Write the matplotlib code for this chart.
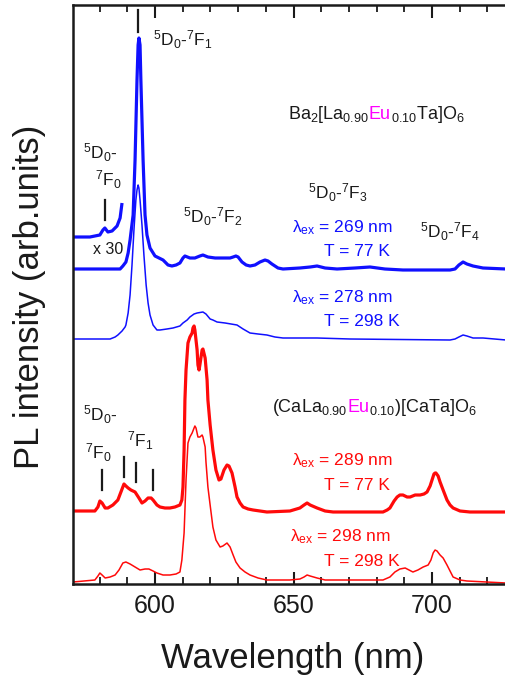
import matplotlib
matplotlib.use("Agg")
import matplotlib.pyplot as plt
import matplotlib.transforms as mtransforms
import numpy as np

plt.rcParams['font.family'] = ['Liberation Sans', 'DejaVu Sans']
plt.rcParams['mathtext.fontset'] = 'custom'
plt.rcParams['mathtext.rm'] = 'Liberation Sans'
plt.rcParams['mathtext.it'] = 'Liberation Sans:italic'
plt.rcParams['mathtext.bf'] = 'Liberation Sans:bold'
plt.rcParams['mathtext.default'] = 'regular'

# ---------------- data (wavelength nm, intensity arb. units incl. vertical offsets) ----------------
ba77_x30_wl = [570.4, 576.5, 580.1, 581.2, 581.9, 583.0, 584.5, 586.3, 587.4, 588.1]
ba77_x30_int = [347, 347, 349, 354, 356, 352, 353, 358, 366, 381]

ba77_wl = [570.4, 587.4, 588.4, 589.5, 590.3, 591.0, 592.1, 592.8, 593.5, 593.9, 594.2,
           594.6, 594.9, 595.7, 596.4, 597.1, 598.2, 600.0, 602.9, 604.7, 606.1, 607.6,
           609.0, 610.1, 610.8, 612.6, 614.4, 616.2, 617.3, 619.1, 621.7, 625.3, 627.1,
           628.2, 629.2, 630.0, 631.4, 632.9, 634.3, 636.1, 637.9, 639.7, 640.8, 642.2,
           644.4, 646.2, 652.3, 656.0, 658.5, 661.4, 665.7, 672.2, 677.6, 683.0, 689.5,
           706.5, 708.3, 709.7, 711.2, 712.6, 714.8, 718.4, 726.7]
ba77_int = [315, 315, 318, 322, 331, 344, 369, 424, 504, 539, 546,
            539, 504, 424, 369, 349, 336, 328, 324, 319, 318, 319,
            321, 326, 328, 326, 326, 328, 329, 327, 326, 326, 326,
            327, 328, 327, 322, 319, 318, 319, 322, 324, 323, 320,
            316, 315, 316, 317, 318, 316, 315, 316, 317, 315, 314,
            314, 315, 319, 322, 320, 318, 316, 315]

ba298_wl = [570.4, 583.8, 585.6, 586.6, 588.1, 589.2, 589.5, 590.3, 591.0, 591.7, 592.4,
            593.1, 593.5, 593.9, 594.2, 594.6, 595.3, 596.0, 596.8, 597.5, 598.2, 599.3,
            600.7, 601.8, 604.3, 606.5, 609.0, 610.1, 611.6, 612.6, 614.1, 615.2, 617.3,
            618.4, 619.9, 620.9, 622.4, 625.3, 629.6, 631.8, 634.3, 637.2, 640.4, 643.3,
            646.2, 658.5, 670.4, 706.5, 708.3, 709.7, 711.2, 712.6, 714.8, 718.4, 726.7]
ba298_int = [245, 245, 247, 249, 253, 257, 259, 271, 289, 319, 354,
             384, 394, 399, 396, 384, 359, 329, 299, 281, 269, 259,
             254, 254, 255, 256, 258, 261, 264, 267, 270, 271, 272,
             270, 265, 264, 262, 261, 259, 255, 251, 250, 249, 247,
             246, 246, 245, 244, 245, 247, 249, 248, 246, 246, 244]

ca77_wl = [570.4, 578.3, 579.4, 580.1, 580.9, 582.0, 583.0, 584.8, 586.6, 587.7, 588.8,
           589.5, 590.3, 591.3, 592.8, 594.2, 595.3, 596.4, 597.5, 598.6, 599.3, 600.7,
           601.8, 603.6, 605.4, 607.2, 609.0, 609.7, 610.1, 610.5, 610.8, 611.2, 611.9,
           612.6, 613.4, 613.7, 614.1, 614.4, 615.2, 615.5, 615.9, 616.2, 617.0, 617.3,
           618.1, 618.8, 619.1, 619.9, 620.9, 622.0, 623.1, 623.8, 624.9, 626.0, 626.7,
           627.8, 628.9, 629.6, 630.7, 631.8, 633.6, 635.4, 640.4, 648.7, 652.3, 653.8,
           654.9, 656.0, 658.5, 661.4, 664.3, 682.3, 683.8, 684.8, 686.3, 687.4, 688.4,
           689.5, 691.0, 692.1, 693.9, 695.7, 697.1, 698.2, 699.3, 700.0, 700.7, 701.1,
           701.4, 702.2, 702.9, 704.0, 705.4, 706.5, 707.6, 710.1, 713.7, 726.7]
ca77_int = [73, 73, 77, 83, 81, 76, 76, 79, 84, 92, 100,
            98, 96, 94, 92, 86, 81, 83, 86, 86, 84, 79,
            77, 76, 76, 77, 79, 84, 97, 134, 184, 214, 241,
            247, 251, 256, 258, 254, 234, 219, 214, 219, 234, 235,
            226, 204, 184, 159, 134, 114, 104, 105, 114, 119, 118,
            111, 97, 87, 81, 77, 75, 74, 72, 73, 76, 79,
            81, 79, 76, 73, 72, 72, 74, 76, 83, 87, 89,
            89, 87, 87, 89, 89, 90, 92, 98, 104, 110, 111,
            111, 108, 102, 94, 84, 79, 76, 73, 72, 72]

ca298_wl = [570.4, 578.3, 579.4, 580.1, 580.9, 582.0, 583.8, 585.6, 587.0, 588.4, 589.5,
            591.0, 592.8, 594.6, 596.4, 597.8, 599.3, 600.7, 602.9, 605.4, 607.6, 609.0,
            609.7, 610.5, 611.2, 611.9, 612.6, 613.4, 614.1, 614.4, 614.8, 615.5, 616.2,
            617.0, 617.3, 618.1, 618.4, 619.1, 619.9, 620.9, 622.0, 623.5, 624.5, 626.0,
            627.1, 628.2, 629.2, 630.7, 632.5, 634.3, 637.2, 640.4, 648.7, 652.3, 653.8,
            654.9, 656.0, 658.5, 661.4, 682.3, 684.8, 686.6, 688.4, 690.3, 691.7, 693.1,
            694.9, 696.8, 698.6, 699.6, 700.4, 701.1, 701.8, 702.9, 704.0, 705.4, 706.5,
            707.6, 710.1, 712.6, 726.7]
ca298_int = [2, 4, 8, 11, 9, 6, 7, 9, 14, 21, 22,
             20, 17, 14, 15, 15, 13, 11, 9, 9, 10, 12,
             24, 51, 104, 141, 147, 151, 156, 158, 156, 147, 147,
             149, 147, 137, 122, 97, 79, 57, 44, 37, 38, 41,
             37, 29, 22, 16, 12, 9, 6, 4, 4, 5, 7,
             9, 8, 6, 4, 4, 7, 12, 15, 16, 14, 12,
             14, 17, 19, 24, 31, 34, 33, 29, 26, 19, 13,
             7, 4, 3, 1]

# transition marker positions (wavelength, y from, y to)
ba_marks = [(593.9, 552, 574), (581.9, 364, 384)]
ca_marks = [(580.9, 94, 114), (588.8, 107, 127), (593.1, 102, 121), (599.3, 94, 114)]

x_ticks = [600, 650, 700]
x_limits = (570.4, 726.7)
y_limits = (0, 579)

BLUE = '#1010ff'
RED = '#ff0a0a'
MAG = '#ff00ff'
TXT = '#1a1a1a'

fig = plt.figure(figsize=(5.06, 6.81), dpi=100)
ax = fig.add_axes([73 / 506, 1 - 584 / 681, 433 / 506, 579 / 681])

ax.plot(ba77_x30_wl, ba77_x30_int, color=BLUE, lw=2.3, solid_capstyle='butt', solid_joinstyle='round')
ax.plot(ba77_wl, ba77_int, color=BLUE, lw=2.3, solid_joinstyle='round')
ax.plot(ba298_wl, ba298_int, color=BLUE, lw=1.1, solid_joinstyle='round')
ax.plot(ca77_wl, ca77_int, color=RED, lw=2.3, solid_joinstyle='round')
ax.plot(ca298_wl, ca298_int, color=RED, lw=1.1, solid_joinstyle='round')

for wl, y0, y1 in ba_marks + ca_marks:
    ax.plot([wl, wl], [y0, y1], color=TXT, lw=1.6)

ax.set_xlim(*x_limits)
ax.set_ylim(*y_limits)
ax.set_xticks(x_ticks)
ax.set_xticks(np.arange(580, 730, 10), minor=True)
ax.set_yticks([])
ax.tick_params(axis='x', which='major', direction='in', length=9, width=1.5,
               top=True, labelsize=18, pad=7, colors=TXT)
ax.tick_params(axis='x', which='minor', direction='in', length=5, width=1.3, top=True, colors=TXT)
for s in ['left', 'bottom', 'top']:
    ax.spines[s].set_linewidth(1.8)
    ax.spines[s].set_color(TXT)
ax.spines['right'].set_visible(False)

fig.text(293 / 506, 1 - 668 / 681, 'Wavelength (nm)', fontsize=25, ha='center',
         va='baseline', color=TXT)
fig.text(30 / 506, 1 - 297 / 681, 'PL intensity (arb.units)', fontsize=25, rotation=90,
         ha='center', va='center', color=TXT)

FS = 12.5
def t(x, y, s, color=TXT, ha='left', va='center', fs=FS):
    ax.text(x, y, s, color=color, ha=ha, va=va, fontsize=fs)

t(599.3, 544, r'$^5$D$_0$-$^7$F$_1$')
t(574.0, 431, r'$^5$D$_0$-')
t(578.3, 404, r'$^7$F$_0$')
t(577.6, 334, 'x 30', fs=11.5)
t(610.1, 367, r'$^5$D$_0$-$^7$F$_2$')
t(655.2, 391, r'$^5$D$_0$-$^7$F$_3$')
t(695.7, 352, r'$^5$D$_0$-$^7$F$_4$')
t(649.5, 356, r'λ$_{ex}$ = 269 nm', color=BLUE)
t(684.8, 332, 'T = 77 K', color=BLUE, ha='right')
t(649.5, 286, r'λ$_{ex}$ = 278 nm', color=BLUE)
t(688.4, 262, 'T = 298 K', color=BLUE, ha='right')
t(649.5, 123, r'λ$_{ex}$ = 289 nm', color=RED)
t(684.8, 98, 'T = 77 K', color=RED, ha='right')
t(648.7, 47, r'λ$_{ex}$ = 298 nm', color=RED)
t(688.4, 23, 'T = 298 K', color=RED, ha='right')
t(574.0, 169, r'$^5$D$_0$-')
t(574.7, 131, r'$^7$F$_0$')
t(589.9, 143, r'$^7$F$_1$')


def rainbow(x, y, parts, fs):
    renderer = fig.canvas.get_renderer()
    tr = ax.transData
    for s, c in parts:
        txt = ax.text(x, y, s, color=c, transform=tr, fontsize=fs, va='baseline', ha='left')
        txt.draw(renderer)
        ex = txt.get_window_extent(renderer)
        tr = mtransforms.offset_copy(txt.get_transform(), x=ex.width, units='dots')


rainbow(648.0, 465, [(r'Ba$_2$[La$_{0.90}$', TXT), ('Eu', MAG), (r'$_{0.10}$Ta]O$_6$', TXT)], 13)
rainbow(642.2, 172, [(r'(CaLa$_{0.90}$', TXT), ('Eu', MAG), (r'$_{0.10}$)[CaTa]O$_6$', TXT)], 13)

fig.savefig('out.png', dpi=100)
